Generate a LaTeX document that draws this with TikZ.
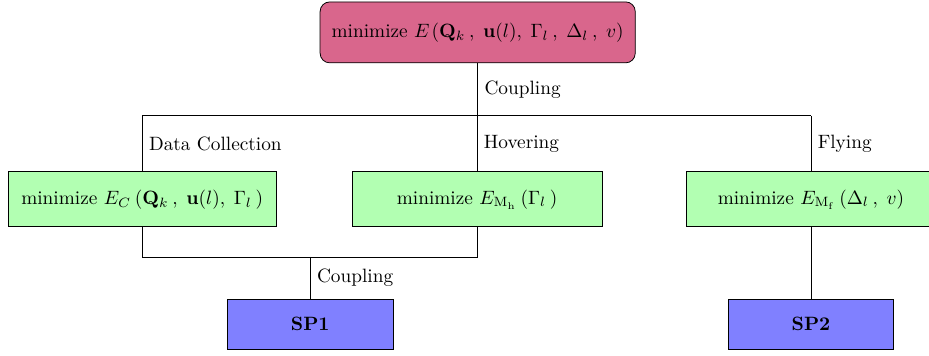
\documentclass[tikz,border=0pt]{standalone}
\usepackage{amsmath}
\usepackage{tikz}
\usetikzlibrary{calc}
\scriptspace=2.5pt
\thinmuskip=8mu

\begin{document}
\begin{tikzpicture}[
	mainbox/.style={draw,fill=purple!60,rounded corners=5pt,minimum width=5.74cm,minimum height=1.11cm},
	subbox/.style={draw,fill=green!30,minimum width=4.55cm,minimum height=1cm},
	spbox/.style={draw,fill=blue!50,minimum width=3.02cm,minimum height=0.91cm}]
	\useasboundingbox (0,0) rectangle (16.92,6.48);
	\node[mainbox] (top) at (8.70,5.89)
		{minimize $E\mkern2mu(\mathbf{Q}_k,\mathbf{u}(l),\Gamma_l,\Delta_l,v)$};
	\node[subbox,minimum width=4.88cm] (dc) at (2.59,2.85)
		{minimize $E_C(\mathbf{Q}_k,\mathbf{u}(l),\Gamma_l)$};
	\node[subbox] (hov) at (8.69,2.85)
		{minimize $E_{\mathrm{M_h}\kern-2pt}(\Gamma_l)$};
	\node[subbox] (fly) at (14.77,2.85)
		{minimize $E_{\mathrm{M_f}\kern-2pt}(\Delta_l,v)$};
	\node[spbox] (sp1) at (5.65,0.58) {\textbf{SP1}};
	\node[spbox] (sp2) at (14.77,0.58) {\textbf{SP2}};
	% upper bus
	\coordinate (busup) at (0,4.37);
	\draw
	(top.south) -- node[right]{Coupling} (top.south |- busup);
	\draw
	(dc.north |- busup) -- (fly.north |- busup);
	\draw
	(dc.north |- busup) -- node[right]{Data Collection} (dc.north);
	\draw
	(hov.north |- busup) -- node[right]{Hovering} (hov.north);
	\draw
	(fly.north |- busup) -- node[right]{Flying} (fly.north);
	% lower bus
	\coordinate (buslow) at (0,1.80);
	\draw
	(dc.south) -- (dc.south |- buslow) -- (hov.south |- buslow) -- (hov.south);
	\draw
	(sp1.north |- buslow) -- node[right]{Coupling} (sp1.north);
	\draw
	(fly.south) -- (sp2.north);
\end{tikzpicture}
\end{document}
